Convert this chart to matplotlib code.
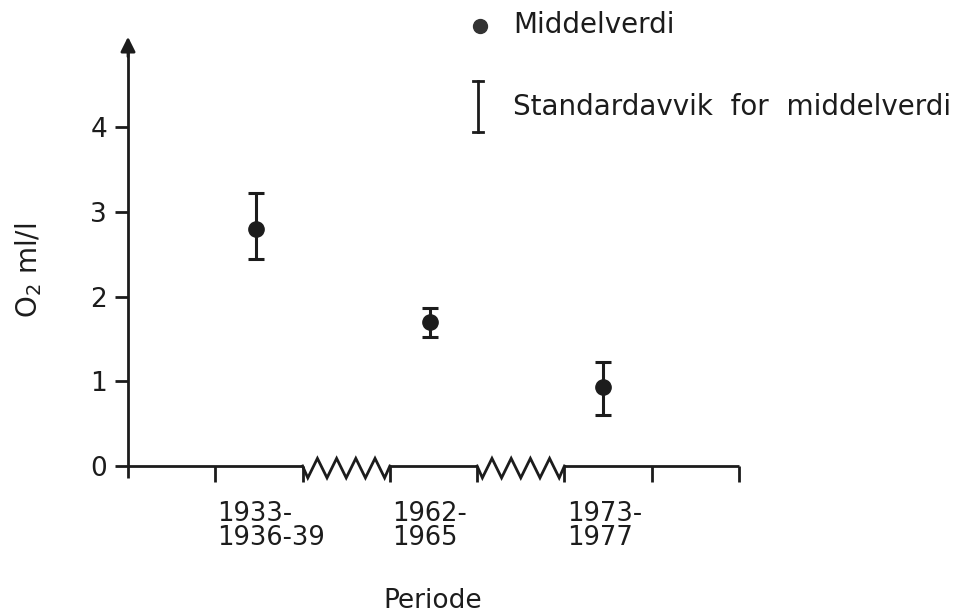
import matplotlib
matplotlib.use("Agg")
import matplotlib.pyplot as plt
from matplotlib.lines import Line2D
import matplotlib.transforms as mtransforms
import numpy as np

plt.rcParams['font.family'] = ['DejaVu Sans']
plt.rcParams['mathtext.fontset'] = 'dejavusans'

# ---- data ----
periods = ["1933-\n1936-39", "1962-\n1965", "1973-\n1977"]
means = [2.80, 1.70, 0.93]
upper = [3.22, 1.86, 1.23]
lower = [2.44, 1.52, 0.60]
yticks = [0, 1, 2, 3, 4]

# ---- layout ----
W, H = 967, 613
fig = plt.figure(figsize=(W/100, H/100), dpi=100)
x0, x1, y0 = 128, 739, 466
ax = fig.add_axes([x0/W, (H-y0)/H, (x1-x0)/W, 5.1*84.7/H])
ax.set_xlim(0, 7)
ax.set_ylim(0, 5.1)
for s in ax.spines.values():
    s.set_visible(False)

col = '#1c1c1c'
lw = 2.0
xpos = [1.47, 3.46, 5.44]
label_left = [1.02, 3.03, 5.03]

# y axis with arrow
ax.plot([0, 0], [-0.14, 4.9], color=col, lw=lw, clip_on=False, solid_capstyle='butt')
ax.annotate('', xy=(0, 5.1), xytext=(0, 4.8),
            arrowprops=dict(arrowstyle='-|>', color=col, lw=lw, mutation_scale=22),
            annotation_clip=False)

# x axis segments with breaks
for a, b in [(0, 2), (3, 4), (5, 7)]:
    ax.plot([a, b], [0, 0], color=col, lw=lw, clip_on=False, solid_capstyle='butt')
for a in [2, 4]:
    n = 9
    zx = np.linspace(a + 0.06, a + 0.94, n)
    zy = np.where(np.arange(n) % 2 == 0, -0.14, 0.09)
    ax.plot(np.r_[a, zx, a + 1], np.r_[0, zy, 0], color=col, lw=lw,
            clip_on=False, solid_joinstyle='miter')
for t in [1, 2, 3, 4, 5, 6, 7]:
    ax.plot([t, t], [0, -0.19], color=col, lw=lw, clip_on=False, solid_capstyle='butt')

# y ticks
ax.set_yticks(yticks)
ax.tick_params(axis='y', length=9.5, width=lw, color=col, pad=5.5, labelsize=19, labelcolor=col)
ax.set_xticks([])

# x category labels (left aligned at ticks)
trans = mtransforms.blended_transform_factory(ax.transData, fig.transFigure)
for xl, lab in zip(label_left, periods):
    ax.text(xl, 1 - 545/H, lab, transform=trans, fontsize=18.5, color=col,
            ha='left', va='baseline', linespacing=0.92, multialignment='left')

fig.text(29/W, 1-270/H, 'O$_2$ ml/l', fontsize=20, color=col, rotation=90,
         ha='center', va='center')
fig.text(433/W, 1-608/H, 'Periode', fontsize=19, color=col, ha='center', va='baseline')

# data
means_a = np.array(means)
err = [means_a - np.array(lower), np.array(upper) - means_a]
ax.errorbar(xpos, means, yerr=err, fmt='o', color=col, ms=11, elinewidth=2.2,
            capsize=5.5, capthick=2.2, clip_on=False)

# legend (manual)
fig.add_artist(Line2D([480/W], [1-26/H], marker='o', ms=10, color='#333333',
                      transform=fig.transFigure))
fig.text(513/W, 1-33/H, 'Middelverdi', fontsize=20, color=col, va='baseline')
fig.add_artist(Line2D([478/W, 478/W], [1-81/H, 1-132/H], color=col, lw=2,
                      transform=fig.transFigure))
for yy in [81, 132]:
    fig.add_artist(Line2D([473/W, 483/W], [1-yy/H, 1-yy/H], color=col, lw=2,
                          transform=fig.transFigure))
fig.text(513/W, 1-115/H, 'Standardavvik  for  middelverdi', fontsize=20, color=col,
         va='baseline')

fig.savefig('out.png', dpi=100)
